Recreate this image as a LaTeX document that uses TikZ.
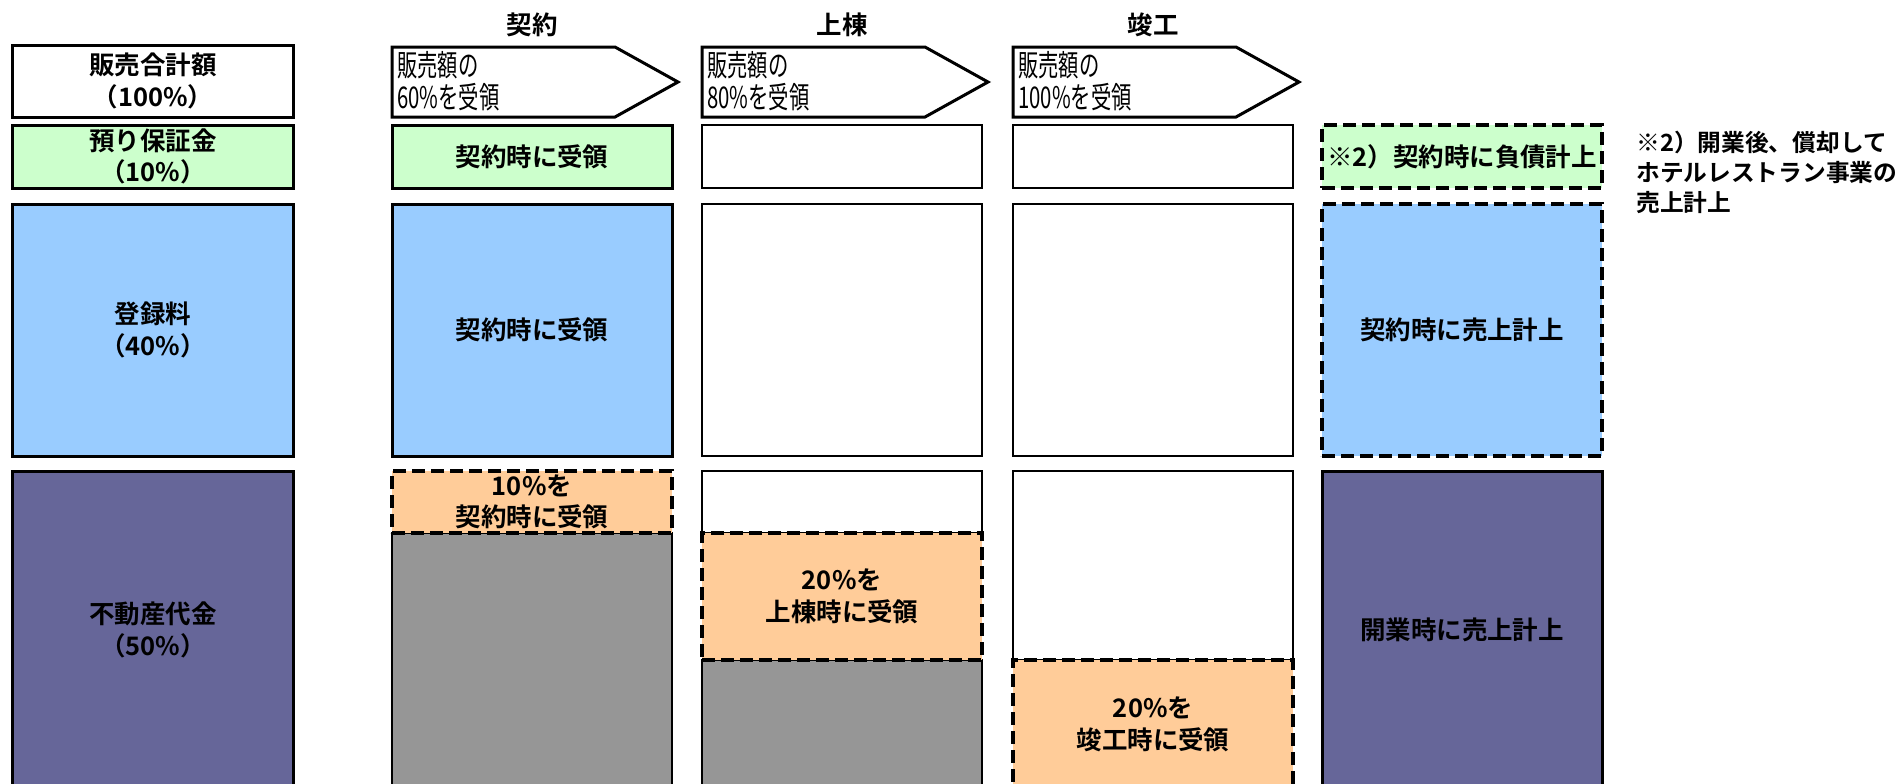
\documentclass[tikz,border=0pt]{standalone}
\usepackage{fontspec}
\setmainfont{Noto Sans CJK JP}[BoldFont={Noto Sans CJK JP Bold}]
\newfontfamily\tagfont{Noto Sans CJK JP}[FakeStretch=0.68]
\usetikzlibrary{positioning}

\definecolor{depositgreen}{HTML}{CCFFCC}
\definecolor{feeblue}{HTML}{99CCFF}
\definecolor{landpurple}{HTML}{666699}
\definecolor{partorange}{HTML}{FFCC99}
\definecolor{restgray}{HTML}{969696}

\tikzset{
  cell/.style={draw, line width=0.6mm, inner sep=0pt, minimum width=56mm,
    align=center, font=\bfseries\fontsize{14.5}{18}\selectfont},
  thincell/.style={cell, line width=0.35mm},
  dashcell/.style={cell, line width=0.7mm, dash pattern=on 2.6mm off 1.2mm},
  stagehead/.style={font=\bfseries\fontsize{14.5}{18}\selectfont},
  tagshape/.style={draw, line width=0.6mm, fill=white, line join=miter},
  tagtext/.style={anchor=north west, inner sep=0pt, align=left,
    font=\tagfont\fontsize{17}{18.5}\selectfont},
  remark/.style={anchor=north west, inner sep=0pt, align=left,
    font=\bfseries\fontsize{13.5}{17}\selectfont},
}

\begin{document}
\begin{tikzpicture}[x=0.2mm, y=-0.2mm]
  \useasboundingbox (0,0) rectangle (1897,783);
  \clip (0,0) rectangle (1897,783);

  % stage headings
  \node[stagehead] (stage1) at (532,25) {契約};
  \node[stagehead] (stage2) at (842,25) {上棟};
  \node[stagehead] (stage3) at (1153,25) {竣工};

  % breakdown of the total
  \node[cell, minimum height=14.4mm] (total) at (153,81) {販売合計額\\（100\%）};
  \node[cell, fill=depositgreen, minimum height=12.6mm] (deposit) at (153,156.5) {預り保証金\\（10\%）};
  \node[cell, fill=feeblue, minimum height=50.4mm] (fee) at (153,330) {登録料\\（40\%）};
  \node[cell, fill=landpurple, minimum height=63.6mm] (land) at (153,630) {不動産代金\\（50\%）};

  % receipt tags
  \draw[tagshape] (392,47) -- (615,47) -- (678,82) -- (615,117) -- (392,117) -- cycle;
  \node[tagtext] (tag1) at (397,51) {販売額の\\60\%を受領};
  \draw[tagshape] (702,47) -- (925,47) -- (988,82) -- (925,117) -- (702,117) -- cycle;
  \node[tagtext] (tag2) at (707,51) {販売額の\\80\%を受領};
  \draw[tagshape] (1013,47) -- (1236,47) -- (1299,82) -- (1236,117) -- (1013,117) -- cycle;
  \node[tagtext] (tag3) at (1018,51) {販売額の\\100\%を受領};

  % contract
  \node[cell, fill=depositgreen, minimum height=12.6mm] (c-deposit) at (532,156.5) {契約時に受領};
  \node[cell, fill=feeblue, minimum height=50.4mm] (c-fee) at (532,330) {契約時に受領};
  \node[thincell, fill=restgray, minimum height=51.2mm] (c-rest) at (532,661) {};
  \node[dashcell, fill=partorange, minimum height=12.4mm] (c-land) at (532,502) {10\%を\\契約時に受領};

  % topping out
  \node[thincell, minimum height=12.6mm] (t-deposit) at (842,156.5) {};
  \node[thincell, minimum height=50.4mm] (t-fee) at (842,330) {};
  \node[thincell, minimum height=12.4mm] (t-done) at (842,502) {};
  \node[thincell, fill=restgray, minimum height=25.8mm] (t-rest) at (842,724.5) {};
  \node[dashcell, fill=partorange, minimum height=25.4mm] (t-land) at (842,596.5) {20\%を\\上棟時に受領};

  % completion
  \node[thincell, minimum height=12.6mm] (f-deposit) at (1153,156.5) {};
  \node[thincell, minimum height=50.4mm] (f-fee) at (1153,330) {};
  \node[thincell, minimum height=37.8mm] (f-done) at (1153,565.5) {};
  \node[dashcell, fill=partorange, minimum height=25.8mm] (f-land) at (1153,724.5) {20\%を\\竣工時に受領};

  % accounting
  \node[dashcell, fill=depositgreen, minimum height=12.6mm] (a-deposit) at (1462,156.5) {※2）契約時に負債計上};
  \node[dashcell, fill=feeblue, minimum height=50.4mm] (a-fee) at (1462,330) {契約時に売上計上};
  \node[cell, fill=landpurple, minimum height=63.6mm] (a-land) at (1462,630) {開業時に売上計上};

  \node[remark] (note2) at (1636,131) {※2）開業後、償却して\\ホテルレストラン事業の\\売上計上};
\end{tikzpicture}
\end{document}
